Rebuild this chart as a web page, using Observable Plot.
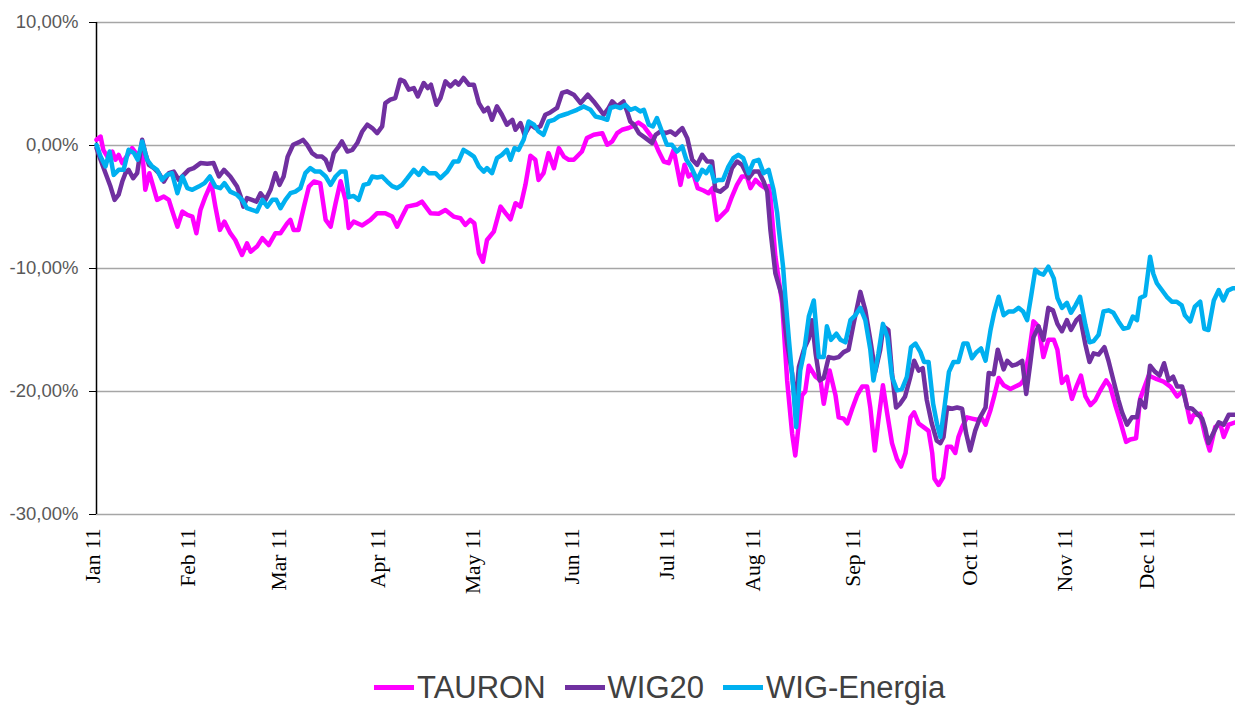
<!DOCTYPE html>
<html><head><meta charset="utf-8">
<script src="https://cdn.jsdelivr.net/npm/d3@7"></script>
<script src="https://cdn.jsdelivr.net/npm/@observablehq/plot@0.6"></script>
<style>
body{margin:0;background:#fff;}
#chart{position:relative;width:1235px;height:707px;overflow:hidden;}
#chart svg{display:block;}
#legend{position:absolute;left:374px;top:671px;height:32px;display:flex;align-items:center;font-family:"Liberation Sans",Arial,sans-serif;font-size:31px;color:#404040;}
.item{display:flex;align-items:center;margin-right:19px;}
.sw{display:inline-block;width:40px;height:5px;margin-right:3px;}
.lab{display:inline-block;line-height:1;}
</style></head><body><div id="chart"></div><script>
// x = trading-day index of 2011, y = % change since the start of the year
const seriesNames = ["TAURON", "WIG20", "WIG-Energia"];
const seriesColors = ["#ff00ff", "#7030a0", "#00b0f0"];
const tickDays = [0, 21, 41, 63, 84, 106, 127, 146, 168, 194, 215, 233];
const tickLabels = ["Jan 11","Feb 11","Mar 11","Apr 11","May 11","Jun 11","Jul 11","Aug 11","Sep 11","Oct 11","Nov 11","Dec 11"];
const yTicks = [-30, -20, -10, 0, 10];

const tauron = [[0,0.46],[0.9,0.73],[1.5,-0.35],[2.4,-0.9],[3.5,-0.49],[4.2,-1.16],[4.9,-0.76],[5.7,-1.43],[7.9,-0.21],[9.0,-0.76],[10.1,-0.35],[10.8,-3.6],[11.7,-2.25],[13.4,-4.42],[14.9,-4.15],[16.0,-4.42],[16.7,-5.24],[17.9,-6.6],[19.0,-5.37],[20.1,-5.64],[21.2,-5.78],[22.1,-7.13],[23.0,-5.24],[24.1,-4.15],[25.4,-3.06],[26.3,-4.97],[27.3,-6.86],[28.3,-6.19],[29.6,-7.13],[30.7,-7.68],[32.2,-8.9],[33.3,-7.95],[34.1,-8.63],[35.5,-8.22],[36.7,-7.54],[38.1,-8.09],[39.6,-7.13],[40.7,-7.13],[42.2,-6.32],[42.9,-6.05],[43.6,-6.86],[44.7,-6.86],[45.9,-4.97],[47.0,-3.34],[48.1,-2.93],[49.5,-3.06],[50.7,-6.05],[51.8,-6.6],[52.9,-4.69],[54.0,-2.9],[55.1,-4.42],[55.8,-6.7],[56.9,-6.19],[58.8,-6.5],[60.6,-6.05],[62.1,-5.5],[63.9,-5.5],[65.4,-5.78],[66.5,-6.6],[67.6,-5.78],[68.7,-4.97],[70.9,-4.8],[72.0,-4.56],[73.9,-5.5],[75.7,-5.55],[77.2,-5.24],[79.0,-5.78],[80.5,-5.91],[81.6,-6.46],[82.7,-6.05],[83.6,-6.32],[84.6,-8.76],[85.5,-9.45],[86.4,-7.68],[87.9,-7.0],[89.4,-4.97],[90.5,-5.5],[91.6,-6.0],[92.7,-4.69],[93.8,-4.97],[94.9,-3.2],[96.0,-0.84],[97.1,-1.16],[97.8,-2.8],[98.9,-2.25],[100.0,-0.62],[101.2,-1.84],[102.3,-0.21],[103.4,-0.9],[104.5,-1.16],[105.6,-1.16],[107.4,-0.49],[108.5,0.6],[110.0,0.87],[111.9,1.0],[113.0,0.06],[114.1,0.33],[115.2,1.0],[116.3,1.28],[117.7,1.42],[118.8,1.6],[119.9,1.87],[121.1,1.55],[122.2,1.0],[123.3,0.46],[124.4,-0.49],[125.5,-1.3],[126.6,-1.43],[127.7,-0.35],[129.2,-3.2],[130.1,-1.57],[131.0,-2.52],[132.0,-2.25],[133.0,-3.47],[134.3,-3.66],[135.4,-3.88],[136.3,-3.47],[137.3,-6.05],[138.4,-5.64],[139.5,-5.24],[140.6,-4.15],[141.7,-3.2],[142.8,-2.52],[143.9,-2.52],[144.7,-3.47],[145.8,-2.8],[146.9,-3.2],[148.0,-3.47],[148.7,-3.3],[149.1,-4.15],[150.2,-9.04],[151.7,-12.8],[152.8,-19.1],[153.9,-23.4],[154.6,-25.2],[156.1,-20.3],[156.8,-20.0],[157.6,-17.9],[159.1,-18.8],[160.2,-19.1],[160.9,-21.0],[162.2,-18.3],[163.5,-20.3],[164.2,-22.1],[165.3,-22.2],[166.1,-22.6],[167.2,-21.4],[168.3,-20.3],[169.4,-19.6],[170.5,-19.6],[171.2,-21.3],[172.2,-24.8],[173.0,-22.3],[174.0,-19.5],[174.9,-21.7],[176.0,-24.2],[177.1,-25.5],[178.0,-26.1],[179.0,-25.0],[180.1,-22.1],[180.9,-21.7],[181.9,-22.6],[183.0,-22.9],[184.1,-23.2],[184.9,-25.0],[185.4,-27.1],[186.3,-27.6],[187.3,-27.0],[188.2,-24.5],[189.1,-24.5],[190.0,-25.0],[190.7,-23.7],[191.5,-22.9],[192.6,-22.1],[193.7,-22.2],[194.8,-22.3],[195.9,-22.2],[196.7,-22.7],[197.8,-21.5],[198.6,-20.4],[199.6,-18.9],[200.7,-19.5],[202.2,-19.8],[204.4,-19.4],[205.1,-19.1],[206.2,-17.2],[207.3,-14.3],[208.4,-14.7],[209.5,-17.2],[210.6,-15.8],[211.8,-15.8],[212.6,-16.6],[213.6,-19.3],[214.7,-18.8],[215.8,-20.6],[216.8,-19.6],[217.8,-18.7],[218.8,-20.4],[219.9,-21.1],[221.0,-20.7],[222.1,-19.9],[223.4,-19.1],[224.3,-19.6],[225.4,-21.1],[226.5,-22.4],[227.8,-24.1],[228.7,-23.9],[230.0,-23.8],[230.9,-20.6],[232.8,-18.7],[234.6,-19.0],[236.1,-19.2],[237.6,-19.6],[239.1,-20.4],[240.5,-19.9],[242.0,-22.5],[242.7,-21.9],[244.2,-21.8],[245.3,-23.6],[246.3,-24.8],[247.5,-22.9],[248.6,-22.6],[249.4,-23.7],[250.5,-22.7],[252.0,-22.5]];

const wig20 = [[0,-0.2],[0.9,-1.16],[2.0,-2.25],[3.1,-3.34],[4.0,-4.42],[4.9,-4.0],[5.7,-2.93],[6.4,-2.25],[7.1,-1.98],[8.1,-2.66],[9.0,-2.25],[10.1,0.46],[10.8,-0.62],[11.6,-1.57],[12.7,-1.84],[13.8,-2.25],[14.9,-2.93],[16.0,-2.25],[17.1,-2.12],[18.2,-2.8],[19.3,-2.39],[20.4,-1.98],[21.5,-1.84],[23.0,-1.43],[24.5,-1.49],[25.9,-1.43],[27.1,-2.52],[28.2,-1.98],[29.6,-2.52],[31.1,-3.34],[31.9,-4.15],[32.5,-4.97],[33.3,-4.28],[34.4,-4.42],[35.4,-4.56],[36.3,-3.88],[37.4,-4.42],[38.5,-3.6],[39.6,-2.25],[40.5,-3.2],[41.4,-2.52],[42.3,-0.9],[43.5,0.06],[44.7,0.25],[45.7,0.46],[46.6,0.06],[47.7,-0.62],[48.8,-0.9],[49.9,-0.9],[50.7,-1.16],[51.6,-1.98],[52.5,-0.62],[53.6,-0.08],[54.3,0.33],[55.5,-0.49],[56.6,-0.35],[57.7,0.2],[58.8,1.14],[59.9,1.69],[61.0,1.42],[62.1,1.0],[63.2,1.55],[63.9,3.45],[65.0,3.72],[66.1,3.86],[67.2,5.35],[68.1,5.21],[69.1,4.54],[70.2,4.67],[71.1,3.99],[72.4,5.08],[73.3,4.67],[74.0,4.94],[75.2,3.31],[76.1,3.86],[77.2,5.21],[78.3,4.81],[79.4,5.21],[80.1,4.94],[81.2,5.49],[82.4,4.94],[83.5,4.94],[84.6,3.45],[85.7,2.77],[86.6,3.05],[87.5,2.09],[88.6,3.18],[89.7,2.5],[90.8,1.69],[92.0,2.09],[92.7,1.28],[93.8,1.82],[94.7,0.87],[96.0,1.69],[97.1,1.42],[98.2,1.55],[99.3,2.5],[100.4,2.69],[101.9,3.05],[103.0,4.27],[104.1,4.4],[105.6,4.13],[107.1,3.45],[108.7,4.13],[110.0,3.58],[111.1,3.05],[112.2,2.5],[113.3,3.05],[114.1,3.58],[115.2,3.18],[116.6,3.58],[117.4,2.77],[118.1,1.95],[118.9,1.69],[120.0,1.0],[121.5,0.6],[122.9,0.2],[123.7,0.87],[124.8,1.14],[125.9,1.0],[127.0,1.14],[128.1,0.87],[128.8,1.14],[129.6,1.42],[130.7,0.6],[131.8,-1.16],[132.9,-1.57],[134.0,-0.76],[135.1,-1.3],[136.2,-1.3],[136.9,-3.6],[138.0,-3.75],[139.4,-3.34],[140.6,-1.84],[141.7,-1.3],[142.8,-1.57],[144.3,-2.66],[145.4,-2.12],[146.5,-2.12],[147.6,-2.93],[148.4,-3.75],[149.1,-6.86],[150.2,-10.4],[151.7,-12.3],[152.1,-13.9],[152.8,-16.1],[153.9,-18.5],[154.6,-21.3],[155.4,-18.0],[156.5,-16.6],[157.6,-15.7],[158.3,-14.2],[159.1,-16.9],[160.0,-19.1],[160.9,-18.9],[162.0,-17.2],[163.1,-17.3],[164.2,-17.2],[165.3,-16.8],[166.4,-16.6],[167.5,-14.5],[169.0,-11.9],[170.1,-13.4],[171.2,-15.8],[172.3,-18.4],[173.4,-16.6],[174.1,-14.7],[175.2,-15.0],[176.0,-18.5],[176.9,-21.3],[177.8,-21.0],[178.9,-20.4],[180.0,-18.9],[180.9,-17.5],[181.9,-18.3],[182.8,-18.1],[183.7,-20.7],[184.8,-22.6],[185.9,-24.0],[186.7,-24.2],[187.4,-23.7],[188.2,-21.3],[189.3,-21.4],[190.4,-21.3],[191.5,-21.4],[192.4,-23.4],[193.3,-24.8],[194.4,-23.2],[195.5,-22.1],[196.7,-21.3],[197.4,-18.5],[198.5,-18.6],[199.4,-16.6],[200.7,-18.2],[201.5,-17.5],[202.6,-17.9],[203.6,-17.8],[204.8,-17.5],[205.7,-20.2],[206.6,-17.7],[207.3,-15.6],[208.4,-14.7],[209.5,-15.8],[210.6,-13.2],[211.6,-13.4],[212.6,-14.5],[213.6,-15.1],[214.7,-14.2],[215.6,-15.0],[216.8,-14.2],[217.6,-13.9],[218.8,-16.2],[219.7,-17.6],[220.6,-16.9],[221.7,-17.0],[223.0,-16.4],[223.9,-17.5],[225.0,-19.1],[226.1,-20.7],[226.9,-21.7],[228.0,-22.7],[229.1,-22.1],[230.2,-22.1],[230.9,-20.7],[232.0,-21.3],[233.1,-17.9],[234.2,-18.4],[235.2,-18.7],[236.2,-17.7],[237.2,-19.1],[238.2,-18.8],[239.1,-19.6],[240.2,-19.6],[241.3,-21.3],[242.4,-21.4],[243.5,-21.8],[244.6,-22.2],[245.3,-23.0],[246.0,-24.2],[247.2,-23.3],[248.3,-22.5],[249.4,-22.7],[250.5,-21.9],[252.0,-21.9]];

const wigEnergia = [[0,0.06],[0.9,-0.9],[2.0,-1.7],[2.9,-0.49],[3.8,-2.39],[4.9,-1.98],[6.0,-1.98],[7.1,-0.35],[8.3,-0.62],[9.1,-1.16],[10.1,0.33],[11.2,-1.16],[12.3,-1.7],[13.4,-1.98],[14.5,-2.8],[15.6,-2.39],[16.7,-2.25],[17.9,-3.88],[19.0,-2.52],[20.1,-3.47],[21.2,-3.6],[22.6,-3.34],[23.9,-3.06],[25.1,-2.52],[26.3,-3.34],[27.4,-3.47],[28.3,-3.06],[29.6,-3.75],[31.1,-4.01],[32.2,-4.42],[33.3,-5.1],[34.4,-5.24],[35.5,-5.37],[36.7,-4.42],[37.8,-4.97],[38.9,-4.42],[39.8,-4.42],[40.7,-5.1],[41.8,-4.42],[42.9,-3.88],[44.0,-3.75],[45.1,-3.47],[46.2,-2.25],[47.3,-1.84],[48.4,-2.12],[49.5,-2.12],[50.7,-2.52],[51.8,-3.2],[52.9,-2.52],[54.0,-2.12],[55.1,-2.12],[55.8,-4.2],[56.9,-4.1],[58.0,-4.42],[59.1,-3.2],[60.2,-3.1],[61.0,-2.52],[62.1,-2.6],[63.2,-2.52],[64.3,-2.93],[65.4,-3.3],[66.5,-3.47],[67.6,-3.2],[68.7,-2.7],[70.2,-1.98],[71.3,-2.39],[72.3,-1.84],[73.5,-2.25],[75.0,-2.25],[76.1,-2.66],[77.6,-2.12],[79.0,-1.3],[80.1,-1.3],[81.2,-0.35],[82.4,-0.62],[83.5,-0.9],[84.6,-1.71],[85.7,-2.12],[86.4,-1.84],[87.5,-2.25],[88.6,-1.03],[89.7,-0.76],[90.8,-0.35],[91.6,-1.16],[92.5,-0.21],[93.4,-0.35],[94.5,0.46],[95.6,1.95],[96.8,1.69],[97.8,1.14],[98.9,0.87],[100.0,1.95],[101.2,2.09],[102.3,2.36],[103.4,2.5],[104.5,2.64],[106.3,2.9],[107.8,3.18],[109.3,2.9],[110.4,2.36],[111.9,2.23],[113.0,2.09],[113.7,3.05],[114.8,3.18],[115.9,3.05],[117.0,3.31],[118.1,2.9],[119.2,3.05],[120.3,2.77],[121.1,2.9],[122.2,1.69],[123.1,1.55],[124.0,2.23],[125.1,1.14],[126.2,0.06],[127.3,0.06],[128.4,-0.49],[129.6,-0.08],[130.5,-1.16],[131.5,-1.71],[132.9,-2.8],[134.0,-1.98],[134.9,-2.25],[135.8,-1.71],[136.7,-2.93],[137.6,-2.8],[138.6,-2.8],[139.8,-1.71],[140.9,-1.03],[142.0,-0.76],[143.1,-1.03],[144.3,-2.25],[145.4,-1.3],[146.5,-1.16],[147.6,-2.25],[148.7,-1.98],[149.8,-3.6],[150.6,-5.5],[150.9,-6.6],[151.9,-9.85],[152.4,-12.3],[153.2,-15.8],[154.2,-19.9],[154.8,-22.9],[155.7,-18.3],[156.5,-16.9],[157.6,-13.9],[158.7,-12.6],[159.8,-17.2],[160.9,-17.2],[161.6,-14.7],[162.5,-15.8],[163.7,-15.3],[164.6,-15.8],[165.7,-16.0],[166.8,-14.2],[167.9,-13.8],[169.0,-13.2],[170.1,-14.2],[171.2,-16.6],[171.9,-19.1],[173.0,-16.9],[174.0,-14.5],[175.0,-15.6],[176.0,-18.8],[177.1,-19.9],[178.2,-19.8],[179.3,-18.8],[180.2,-16.4],[181.2,-16.1],[182.3,-16.8],[183.1,-17.6],[184.1,-17.6],[185.1,-21.0],[186.0,-22.7],[186.7,-23.7],[187.6,-21.3],[188.6,-18.4],[189.6,-17.6],[190.7,-17.6],[191.8,-16.1],[192.7,-16.1],[193.7,-17.3],[194.7,-16.8],[195.7,-16.5],[196.7,-17.5],[197.8,-15.0],[198.6,-13.6],[199.6,-12.3],[200.7,-13.8],[201.8,-13.5],[202.9,-13.5],[204.0,-13.2],[205.0,-13.5],[205.9,-14.2],[206.8,-12.2],[207.7,-10.1],[208.7,-10.4],[209.5,-10.5],[210.6,-9.85],[211.8,-10.8],[212.6,-12.4],[213.6,-13.2],[214.7,-12.8],[215.6,-13.6],[216.6,-13.0],[217.6,-12.3],[218.8,-14.6],[219.7,-16.0],[220.6,-15.9],[221.7,-15.4],[222.8,-13.5],[223.9,-13.4],[225.0,-13.6],[226.1,-14.3],[227.2,-14.9],[228.3,-14.8],[229.3,-13.9],[230.2,-14.2],[230.9,-12.4],[232.0,-12.2],[233.1,-9.04],[233.8,-10.4],[234.6,-11.2],[235.7,-11.75],[236.8,-12.3],[237.9,-12.7],[239.0,-12.7],[240.1,-13.0],[240.8,-13.8],[242.0,-14.3],[243.0,-13.1],[244.2,-12.7],[245.1,-14.9],[246.0,-15.0],[247.2,-12.6],[248.3,-11.75],[249.3,-12.6],[250.3,-11.8],[251.4,-11.6],[252.0,-11.6]];

const allSeries = [tauron, wig20, wigEnergia];
const rows = allSeries.flatMap((s, i) => s.map(([t, v]) => ({t, v, series: seriesNames[i]})));
const fmt = d => d.toFixed(2).replace(".", ",") + "%";

const plot = Plot.plot({
  width: 1235,
  height: 662,
  marginLeft: 96,
  marginRight: 0,
  marginTop: 22,
  marginBottom: 148,
  style: {background: "#fff", overflow: "visible"},
  x: {domain: [0, 252]},
  y: {domain: [-30, 10]},
  color: {domain: seriesNames, range: seriesColors},
  marks: [
    Plot.ruleY(yTicks, {stroke: "#a6a6a6", strokeWidth: 1.5}),
    Plot.ruleX([0], {stroke: "#000", strokeWidth: 1.5}),
    Plot.axisY({ticks: yTicks, tickFormat: fmt, tickSize: 7, tickPadding: 11, label: null,
      fontSize: 18.5, fontFamily: "Liberation Sans, Arial, sans-serif", fill: "#595959", stroke: "#000"}),
    Plot.axisX({ticks: tickDays, tickFormat: (d) => tickLabels[tickDays.indexOf(d)], tickRotate: -90,
      tickSize: 0, tickPadding: 14, dx: -3, label: null, fontSize: 21.5, fontFamily: "Liberation Serif, Times New Roman, serif", fill: "#000"}),
    ...seriesNames.map(name => Plot.line(rows.filter(r => r.series === name),
      {x: "t", y: "v", stroke: "series", strokeWidth: 4.5, strokeLinejoin: "round", strokeLinecap: "round"}))
  ]
});
const chart = document.getElementById("chart");
chart.appendChild(plot);
const legend = document.createElement("div");
legend.id = "legend";
seriesNames.forEach((name, i) => {
  const item = document.createElement("div");
  item.className = "item";
  const sw = document.createElement("span");
  sw.className = "sw";
  sw.style.background = seriesColors[i];
  const lab = document.createElement("span");
  lab.className = "lab";
  lab.textContent = name;
  item.appendChild(sw);
  item.appendChild(lab);
  legend.appendChild(item);
});
chart.appendChild(legend);
</script></body></html>
